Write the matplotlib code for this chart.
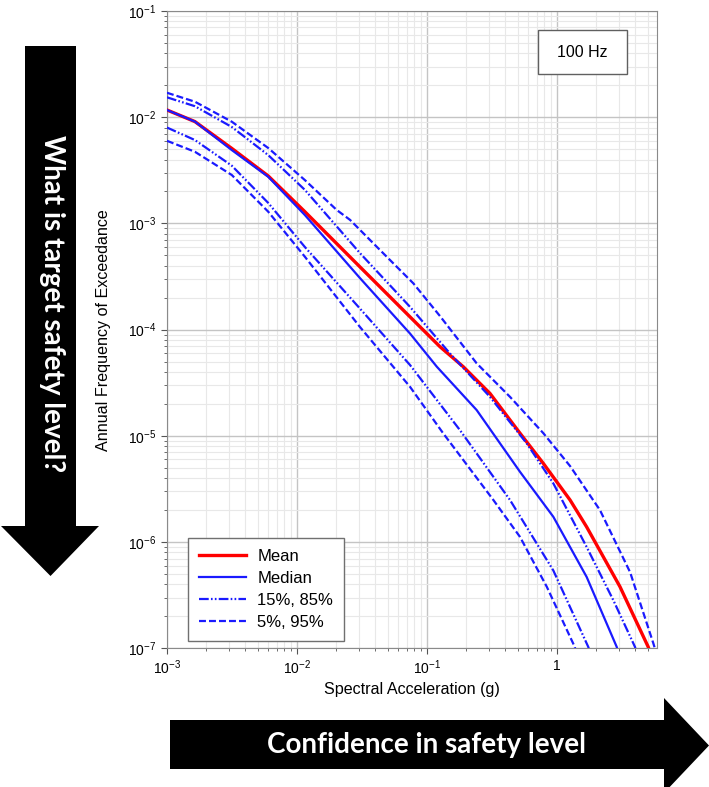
import matplotlib
matplotlib.use("Agg")
import matplotlib.pyplot as plt
from matplotlib.patches import Polygon, Rectangle
from matplotlib.ticker import NullFormatter

plt.rcParams['font.family'] = ['Liberation Sans', 'DejaVu Sans']
plt.rcParams['lines.scale_dashes'] = False

# hazard curves (x = spectral acceleration in g, y = annual frequency)
mean_x = [0.001, 0.00164, 0.00315, 0.00601, 0.0115, 0.0305, 0.074, 0.126, 0.19, 0.305, 0.519, 0.785, 1.26, 1.69, 3.05, 5.03, 5.19]
mean_y = [1.17e-2, 9.1e-3, 5.09e-3, 2.8e-3, 1.29e-3, 3.9e-4, 1.32e-4, 6.9e-5, 4.48e-5, 2.51e-5, 1.06e-5, 5.5e-6, 2.49e-6, 1.39e-6, 3.8e-7, 1.03e-7, 9.2e-8]

median_x = [0.001, 0.00164, 0.00315, 0.00601, 0.0115, 0.0305, 0.074, 0.119, 0.241, 0.519, 0.937, 1.69, 2.88, 2.94]
median_y = [1.17e-2, 9.1e-3, 4.91e-3, 2.75e-3, 1.20e-3, 3.06e-4, 9.2e-5, 4.48e-5, 1.75e-5, 4.59e-6, 1.73e-6, 4.7e-7, 1.03e-7, 9.2e-8]

p85_x = [0.001, 0.00164, 0.00315, 0.00601, 0.0115, 0.0305, 0.074, 0.150, 0.305, 0.585, 0.937, 1.69, 2.71, 3.98, 4.08]
p85_y = [1.54e-2, 1.27e-2, 8.1e-3, 4.4e-3, 2.07e-3, 5.26e-4, 1.64e-4, 5.98e-5, 2.33e-5, 8.5e-6, 3.57e-6, 9.0e-7, 2.84e-7, 1.03e-7, 9.2e-8]

p15_x = [0.001, 0.00164, 0.00315, 0.00601, 0.0115, 0.0305, 0.074, 0.1795, 0.435, 0.937, 1.74, 1.79]
p15_y = [8.0e-3, 6.1e-3, 3.5e-3, 1.56e-3, 6.0e-4, 1.58e-4, 4.65e-5, 1.13e-5, 2.49e-6, 5.4e-7, 1.03e-7, 9.2e-8]

p95_x = [0.001, 0.00164, 0.00315, 0.00601, 0.0115, 0.0202, 0.0256, 0.0435, 0.0785, 0.126, 0.241, 0.435, 0.785, 1.26, 2.14, 3.65, 5.51, 5.78]
p95_y = [1.70e-2, 1.40e-2, 9.08e-3, 5.13e-3, 2.56e-3, 1.34e-3, 1.08e-3, 5.62e-4, 2.73e-4, 1.34e-4, 4.82e-5, 2.33e-5, 1.06e-5, 5.2e-6, 2.0e-6, 5.2e-7, 1.11e-7, 9.2e-8]

p5_x = [0.001, 0.00164, 0.00315, 0.00601, 0.0115, 0.0305, 0.074, 0.133, 0.324, 0.519, 0.834, 1.37, 1.40]
p5_y = [6.0e-3, 4.73e-3, 2.86e-3, 1.29e-3, 4.86e-4, 1.06e-4, 2.9e-5, 1.06e-5, 2.49e-6, 1.12e-6, 3.8e-7, 1.03e-7, 9.2e-8]

x_ticks = [1e-3, 1e-2, 1e-1, 1]
x_tick_labels = [r'$\mathdefault{10^{-3}}$', r'$\mathdefault{10^{-2}}$', r'$\mathdefault{10^{-1}}$', '1']
y_ticks = [1e-7, 1e-6, 1e-5, 1e-4, 1e-3, 1e-2, 1e-1]

blue = '#1a1aff'
red = '#ff0000'
dashdotdot = (0, (7, 1.6, 1.2, 1.6, 1.2, 1.6))
dashed = (0, (5, 2.2))

fig = plt.figure(figsize=(7.09, 7.87), dpi=100)
ax = fig.add_axes([0.2355, 0.1762, 0.6915, 0.8098])

ax.plot(mean_x, mean_y, color=red, lw=2.4, label='Mean', zorder=3)
ax.plot(median_x, median_y, color=blue, lw=1.6, label='Median', zorder=4)
ax.plot(p15_x, p15_y, color=blue, lw=1.6, linestyle=dashdotdot, label='15%, 85%', zorder=4)
ax.plot(p85_x, p85_y, color=blue, lw=1.6, linestyle=dashdotdot, zorder=4)
ax.plot(p5_x, p5_y, color=blue, lw=1.6, linestyle=dashed, label='5%, 95%', zorder=4)
ax.plot(p95_x, p95_y, color=blue, lw=1.6, linestyle=dashed, zorder=4)

ax.set_xscale('log')
ax.set_yscale('log')
ax.set_xlim(1e-3, 5.9)
ax.set_ylim(1e-7, 1e-1)
ax.set_xticks(x_ticks, labels=x_tick_labels)
ax.set_yticks(y_ticks)
ax.xaxis.set_minor_formatter(NullFormatter())
ax.yaxis.set_minor_formatter(NullFormatter())
ax.tick_params(which='both', labelsize=10, color='#555555', direction='out')
ax.tick_params(which='major', length=4)
ax.tick_params(which='minor', length=2.5)

ax.grid(True, which='major', color='#c4c4c4', lw=1.0)
ax.grid(True, which='minor', color='#e8e8e8', lw=0.8)
ax.set_axisbelow(True)
for s in ax.spines.values():
    s.set_color('#8a8a8a')

ax.set_xlabel('Spectral Acceleration (g)', fontsize=11.6)
ax.set_ylabel('Annual Frequency of Exceedance', fontsize=11.6)
ax.xaxis.set_label_coords(0.5, -0.053)
ax.yaxis.set_label_coords(-0.114, 0.5)

leg = ax.legend(loc='lower left', bbox_to_anchor=(0.043, 0.0115), borderaxespad=0,
                fontsize=12, handlelength=2.8, handletextpad=0.7, labelspacing=0.42,
                fancybox=False, framealpha=1, edgecolor='#707070', borderpad=0.65)
leg.get_frame().set_linewidth(1.0)

ax.add_patch(Rectangle((0.757, 0.901), 0.1815, 0.069, transform=ax.transAxes,
                       facecolor='white', edgecolor='#606060', lw=1.0, zorder=5))
ax.text(0.8478, 0.9355, '100 Hz', transform=ax.transAxes, ha='center', va='center',
        fontsize=11.5, zorder=6)

# the two black arrows around the chart, in figure pixels
W, H = 709, 787
def px(pts):
    return [(x / W, 1 - y / H) for x, y in pts]

down_arrow = [(25, 46), (76, 46), (76, 526), (99, 526), (50.5, 576), (1, 526), (25, 526)]
right_arrow = [(170, 720), (664, 720), (664, 698), (709, 745.5), (664, 793), (664, 769), (170, 769)]
fig.patches.append(Polygon(px(down_arrow), closed=True, facecolor='black', edgecolor='none',
                           transform=fig.transFigure))
fig.patches.append(Polygon(px(right_arrow), closed=True, facecolor='black', edgecolor='none',
                           transform=fig.transFigure))

fig.text(52 / W, 1 - 304 / H, 'What is target safety level?', rotation=-90, color='white',
         fontsize=20, fontweight='bold', family='Lato', ha='center', va='center')
fig.text(427 / W, 1 - 745 / H, 'Confidence in safety level', color='white',
         fontsize=20, fontweight='bold', family='Lato', ha='center', va='center')

fig.savefig('out.png', dpi=100)
